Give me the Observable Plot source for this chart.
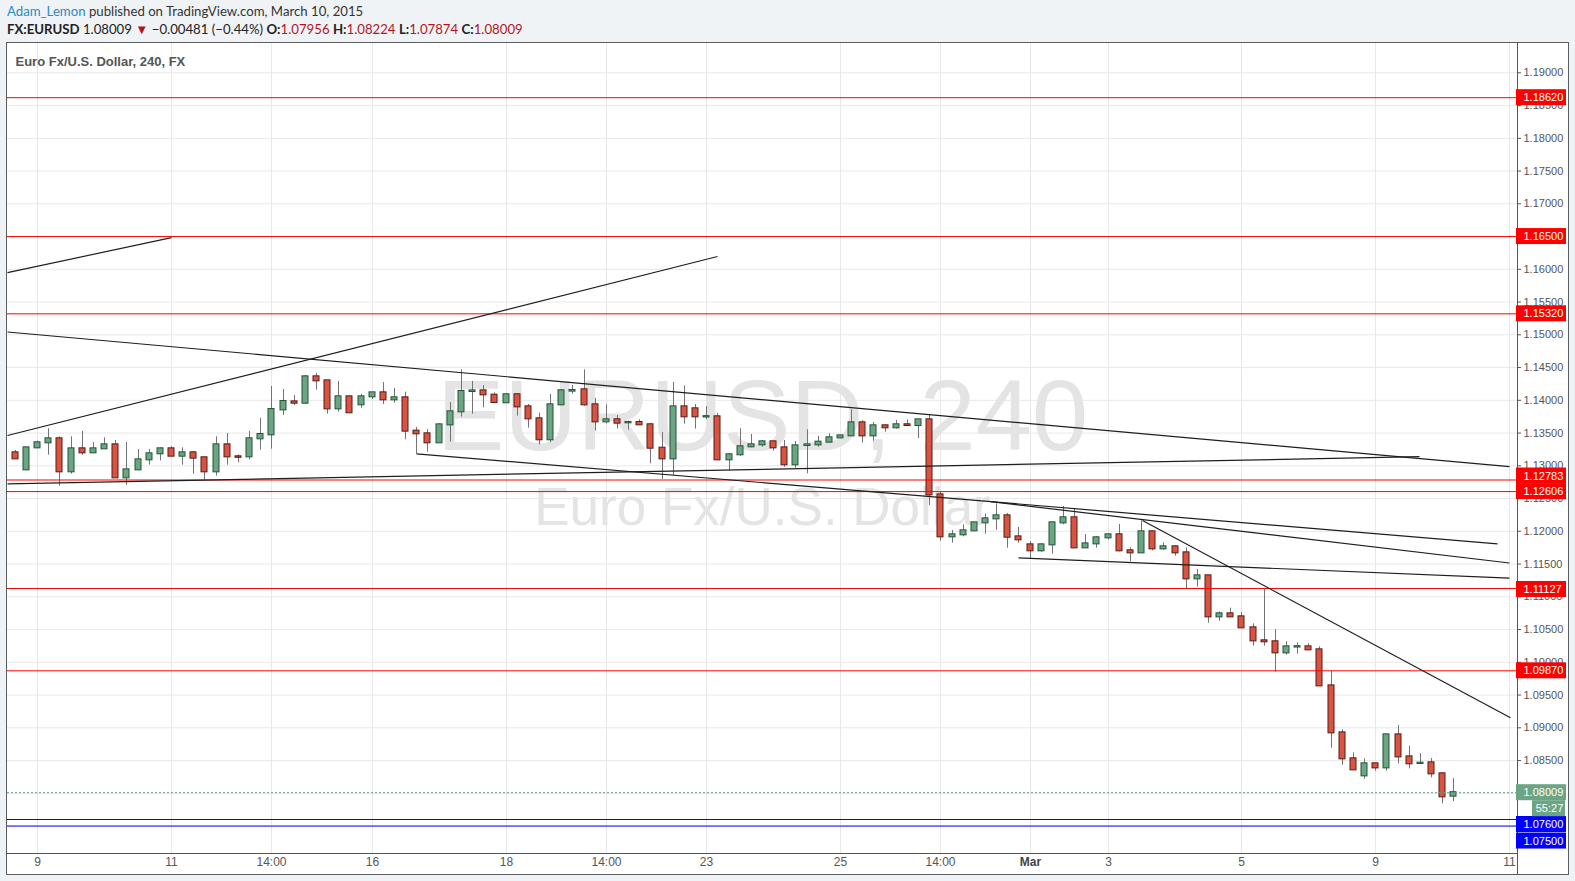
<!DOCTYPE html>
<html><head><meta charset="utf-8">
<script src="https://cdn.jsdelivr.net/npm/d3@7"></script>
<script src="https://cdn.jsdelivr.net/npm/@observablehq/plot@0.6"></script>
<style>
html,body{margin:0;padding:0;background:#f0f3f6;width:1575px;height:881px;overflow:hidden;font-family:Lato,"Open Sans",sans-serif;}
#h1{position:absolute;left:7px;top:3px;font-size:13.2px;color:#333;white-space:nowrap;line-height:16px;}
#h2{position:absolute;left:7px;top:21px;font-size:13.2px;color:#222;white-space:nowrap;line-height:16px;}
#h1 .user{color:#2b8ac3;}
#h2 b{font-weight:700;color:#222;}
#h2 .r{color:#b3151d;}
#chart{position:absolute;left:6px;top:42px;width:1561px;height:831px;border:1px solid #5d5d5d;background:#fff;}
#chart svg{display:block;}
</style></head><body>
<div id="h1"><span class="user">Adam_Lemon</span> published on TradingView.com, March 10, 2015</div>
<div id="h2"></div>
<div id="chart"></div>
<script>
// ---- data: EURUSD 240 candles, index 0 = Feb 9 ----
const firstIndex = -2;
const open = [1.13198,1.12938,1.13274,1.13351,1.13412,1.12908,1.13259,1.13198,1.13259,1.13320,
1.12816,1.12938,1.13091,1.13183,1.13259,1.13147,1.13198,1.13122,1.12908,1.13320,
1.13137,1.13137,1.13412,1.13473,1.13854,1.13976,1.13956,1.14358,1.14297,1.13869,
1.14053,1.13931,1.14053,1.14114,1.14007,1.14038,1.13529,1.13488,1.13351,1.13625,
1.13824,1.14134,1.14144,1.14078,1.13962,1.14084,1.13900,1.13717,1.13397,1.13931,
1.14140,1.14160,1.13931,1.13671,1.13702,1.13656,1.13661,1.13626,1.13269,1.13106,
1.13900,1.13870,1.13745,1.13748,1.13091,1.13168,1.13290,1.13320,1.13366,1.13274,
1.13015,1.13310,1.13320,1.13361,1.13427,1.13457,1.13656,1.13457,1.13610,1.13580,
1.13626,1.13615,1.13702,1.12556,1.11915,1.11946,1.12007,1.12129,1.12190,1.12236,
1.11915,1.11793,1.11702,1.11793,1.12129,1.12206,1.11747,1.11808,1.11900,1.11946,
1.11702,1.11671,1.11992,1.11732,1.11763,1.11671,1.11274,1.11320,1.10694,1.10740,
1.10694,1.10526,1.10328,1.10313,1.10144,1.10233,1.10236,1.10190,1.09640,1.08923,
1.08526,1.08266,1.08450,1.08388,1.08892,1.08556,1.08455,1.08465,1.08297,1.07956];
const high = [1.13234,1.13280,1.13376,1.13565,1.13442,1.13442,1.13524,1.13356,1.13427,1.13386,
1.13356,1.13249,1.13249,1.13274,1.13290,1.13274,1.13218,1.13122,1.13442,1.13493,
1.13167,1.13524,1.13727,1.14211,1.14165,1.14073,1.14379,1.14409,1.14297,1.14287,
1.14053,1.14089,1.14114,1.14272,1.14180,1.14124,1.13585,1.13554,1.13641,1.13966,
1.14465,1.14287,1.14226,1.14114,1.14094,1.14099,1.13936,1.13804,1.14089,1.14160,
1.14226,1.14465,1.14028,1.13931,1.13768,1.13682,1.13702,1.13646,1.13509,1.14272,
1.14221,1.13936,1.13905,1.13799,1.13183,1.13565,1.13478,1.13386,1.13366,1.13386,
1.13371,1.13549,1.13447,1.13488,1.13460,1.13854,1.13687,1.13661,1.13626,1.13692,
1.13702,1.13702,1.13773,1.12592,1.12012,1.12099,1.12134,1.12266,1.12419,1.12272,
1.12058,1.11844,1.11808,1.12144,1.12379,1.12343,1.11951,1.11920,1.11961,1.12104,
1.11747,1.12160,1.11992,1.11824,1.11778,1.11747,1.11417,1.11320,1.10770,1.10826,
1.10760,1.10587,1.11110,1.10496,1.10313,1.10297,1.10282,1.10236,1.09859,1.08968,
1.08617,1.08526,1.08450,1.08892,1.09035,1.08719,1.08607,1.08531,1.08312,1.08224];
const low = [1.13106,1.12935,1.13274,1.13162,1.12689,1.12872,1.13162,1.13198,1.13259,1.12816,
1.12704,1.12938,1.13010,1.13076,1.13147,1.13010,1.12872,1.12776,1.12842,1.13010,
1.13045,1.13091,1.13239,1.13254,1.13768,1.13920,1.13941,1.14155,1.13788,1.13819,
1.13809,1.13880,1.14012,1.13936,1.13956,1.13396,1.13178,1.13208,1.13351,1.13361,
1.13742,1.13788,1.13885,1.13966,1.13962,1.13758,1.13575,1.13320,1.13351,1.13916,
1.14094,1.13910,1.13529,1.13641,1.13560,1.13544,1.13615,1.13030,1.12791,1.12852,
1.13636,1.13560,1.13702,1.13091,1.12928,1.13147,1.13274,1.13284,1.13223,1.12979,
1.12964,1.12877,1.13284,1.13351,1.13412,1.13457,1.13346,1.13376,1.13513,1.13559,
1.13610,1.13417,1.12394,1.11849,1.11819,1.11915,1.12007,1.11956,1.12017,1.11742,
1.11819,1.11580,1.11681,1.11651,1.12099,1.11747,1.11747,1.11742,1.11870,1.11686,
1.11534,1.11671,1.11702,1.11712,1.11620,1.11126,1.11147,1.10597,1.10628,1.10694,
1.10526,1.10246,1.10246,1.09849,1.10109,1.10124,1.10190,1.09640,1.08689,1.08429,
1.08358,1.08215,1.08338,1.08338,1.08450,1.08373,1.08450,1.08236,1.07839,1.07874];
const close = [1.13106,1.13274,1.13351,1.13412,1.12908,1.13259,1.13198,1.13259,1.13320,1.12816,
1.12938,1.13091,1.13183,1.13259,1.13147,1.13198,1.13117,1.12908,1.13320,1.13137,
1.13130,1.13412,1.13478,1.13859,1.13981,1.13956,1.14358,1.14297,1.13869,1.14053,
1.13809,1.14053,1.14114,1.14007,1.14038,1.13529,1.13488,1.13351,1.13625,1.13824,
1.14134,1.14144,1.14083,1.13966,1.14084,1.13900,1.13717,1.13397,1.13931,1.14145,
1.14150,1.13931,1.13671,1.13702,1.13651,1.13662,1.13626,1.13269,1.13106,1.13900,
1.13748,1.13748,1.13750,1.13091,1.13168,1.13290,1.13320,1.13366,1.13274,1.13015,
1.13305,1.13320,1.13361,1.13427,1.13457,1.13656,1.13457,1.13610,1.13580,1.13626,
1.13615,1.13702,1.12556,1.11915,1.11946,1.12007,1.12129,1.12190,1.12236,1.11910,
1.11870,1.11702,1.11793,1.12129,1.12206,1.11747,1.11808,1.11900,1.11946,1.11702,
1.11671,1.11992,1.11732,1.11763,1.11671,1.11274,1.11320,1.10694,1.10740,1.10694,
1.10526,1.10327,1.10313,1.10144,1.10236,1.10238,1.10190,1.09640,1.08923,1.08526,
1.08358,1.08450,1.08388,1.08892,1.08556,1.08450,1.08460,1.08297,1.07946,1.08009];

const dayChange = -0.00481, dayChangePct = -0.44;

// horizontal levels
const redLevels = [1.18620, 1.16500, 1.15320, 1.12783, 1.12606, 1.11127, 1.09870];
const blueLevels = [1.07600, 1.07500];

// trend lines [index, price]
const trendStart = [[-2.71,1.15948],[-2.71,1.13463],[-2.71,1.15043],[-2.71,1.12725],[33.95,1.13183],[85.45,1.12453],[88.0,1.11595],[99.1,1.12165]];
const trendEnd   = [[12.0,1.16484],[60.97,1.16195],[131.97,1.12988],[123.9,1.13139],[130.9,1.11808],[131.97,1.11516],[131.97,1.11285],[132.1,1.09153]];

// axes
const priceTicks = [1.075,1.080,1.085,1.090,1.095,1.100,1.105,1.110,1.115,1.120,1.125,1.130,1.135,1.140,1.145,1.150,1.155,1.160,1.165,1.170,1.175,1.180,1.185,1.190];
const timeTickIdx = [0,12,21,30,42,51,60,72,81,89,96,108,120,132];
const timeTickLabels = ["9","11","14:00","16","18","14:00","23","25","14:00","Mar","3","5","9","11"];

// price-axis badges
const badgePrices = [1.18620,1.16500,1.15320,1.12783,1.12606,1.11127,1.09870,1.08009,1.07600,1.07500];
const badgeColors = ["#ff0000","#ff0000","#ff0000","#ff0000","#ff0000","#ff0000","#ff0000","#6ba583","#0000ff","#0000ff"];
const badgeShift = [0,0,0,-4,0,1,0,0,5,15];
const countdown = "55:27";

// ---- build ----
const candles = open.map((o, k) => ({i: k + firstIndex, o, h: high[k], l: low[k], c: close[k]}));
const up = candles.filter(d => d.c >= d.o), dn = candles.filter(d => d.c < d.o);
const last = candles[candles.length - 1];
const f5 = v => v.toFixed(5);
const minus = s => s.replace("-", "\u2212");

document.getElementById("h2").innerHTML =
  `<b>FX:EURUSD</b> ${f5(last.c)} <span class="r">\u25BC</span> ${minus(f5(dayChange))} (${minus(dayChangePct.toFixed(2))}%) ` +
  `<b>O:</b><span class="r">${f5(last.o)}</span> <b>H:</b><span class="r">${f5(last.h)}</span> ` +
  `<b>L:</b><span class="r">${f5(last.l)}</span> <b>C:</b><span class="r">${f5(last.c)}</span>`;

const xMin = -2.7085, xMax = 132.717, yMin = 1.070809, yMax = 1.194473;
const AX = "#555";
const links = trendStart.map((s, k) => ({x1: s[0], y1: s[1], x2: trendEnd[k][0], y2: trendEnd[k][1]}));

const badgeMarks = [];
badgePrices.forEach((p, k) => {
  badgeMarks.push(Plot.rect([p], {x1: xMax, x2: xMax, y1: d => d, y2: d => d, insetLeft: -1, insetRight: -49, insetTop: -8, insetBottom: -8, dy: badgeShift[k], fill: badgeColors[k]}));
  badgeMarks.push(Plot.text([p], {x: xMax, y: d => d, dx: 6, dy: badgeShift[k], text: d => f5(d), textAnchor: "start", fill: "#fff", fontSize: 11}));
});
badgeMarks.push(Plot.rect([last.c], {x1: xMax, x2: xMax, y1: d => d, y2: d => d, insetLeft: 15, insetRight: -48, insetTop: -8, insetBottom: -8, dy: 16, fill: "#6ba583"}));
badgeMarks.push(Plot.text([countdown], {x: xMax, y: last.c, dx: 32, dy: 16, text: d => d, fill: "#fff", fontSize: 11}));

const regTicks = timeTickIdx.filter((d, k) => timeTickLabels[k] !== "Mar");
const boldTicks = timeTickIdx.filter((d, k) => timeTickLabels[k] === "Mar");
const lab = d => timeTickLabels[timeTickIdx.indexOf(d)];

const chart = Plot.plot({
  width: 1561, height: 831,
  marginLeft: 0, marginRight: 51, marginTop: 0, marginBottom: 21,
  x: {domain: [xMin, xMax], axis: null, round: true},
  y: {domain: [yMin, yMax], axis: null},
  style: {background: "#fff", fontFamily: "'Liberation Sans', Arial, sans-serif", fontSize: "11px", overflow: "visible"},
  marks: [
    Plot.ruleY(priceTicks, {stroke: "#e8e8e8"}),
    Plot.ruleX(timeTickIdx, {stroke: "#e8e8e8"}),
    Plot.text(["EURUSD, 240"], {frameAnchor: "middle", lineAnchor: "bottom", dy: 1, fontSize: 101, fill: "#e4e4e4"}),
    Plot.text(["Euro Fx/U.S. Dollar"], {frameAnchor: "middle", lineAnchor: "bottom", dy: 76, fontSize: 53, fill: "#e4e4e4"}),
    Plot.text(["Euro Fx/U.S. Dollar, 240, FX"], {frameAnchor: "top-left", textAnchor: "start", lineAnchor: "middle", dx: 8, dy: 18, fontSize: 13, fontWeight: "bold", fill: "#555", fontFamily: "'Liberation Sans Narrow', 'Liberation Sans', sans-serif"}),
    Plot.ruleX(candles, {x: "i", y1: "l", y2: "h", stroke: "#737375"}),
    Plot.rect(up, {x1: "i", x2: "i", y1: "o", y2: "c", insetLeft: -3, insetRight: -3, insetTop: -0.5, insetBottom: -0.5, fill: "#6ba583", stroke: "#225437"}),
    Plot.rect(dn, {x1: "i", x2: "i", y1: "c", y2: "o", insetLeft: -3, insetRight: -3, insetTop: -0.5, insetBottom: -0.5, fill: "#d75442", stroke: "#5b1a13"}),
    Plot.ruleY(redLevels, {stroke: "#ff0000"}),
    Plot.ruleY(blueLevels, {stroke: "#0000ff"}),
    Plot.ruleY([last.c], {stroke: "#5f9e7c", strokeDasharray: "2,2"}),
    Plot.link(links, {x1: "x1", y1: "y1", x2: "x2", y2: "y2", stroke: "#1e1e1e", strokeWidth: 1.2}),
    Plot.ruleX([xMax], {stroke: AX, insetBottom: -21}),
    Plot.ruleY([yMin], {stroke: AX}),
    Plot.ruleY(priceTicks, {x1: xMax, x2: xMax, insetRight: -4, stroke: AX}),
    Plot.text(priceTicks, {x: xMax, y: d => d, dx: 6, text: d => f5(d), textAnchor: "start", fill: AX, fontSize: 11}),
    Plot.text(regTicks, {x: d => d, y: yMin, dy: 9, text: lab, fill: AX, fontSize: 12, fontFamily: "'Liberation Sans Narrow', 'Liberation Sans', sans-serif"}),
    Plot.text(boldTicks, {x: d => d, y: yMin, dy: 9, text: lab, fill: "#444", fontSize: 12, fontWeight: "bold", fontFamily: "'Liberation Sans Narrow', 'Liberation Sans', sans-serif"}),
    ...badgeMarks
  ]
});
document.getElementById("chart").appendChild(chart);
</script>
</body></html>
